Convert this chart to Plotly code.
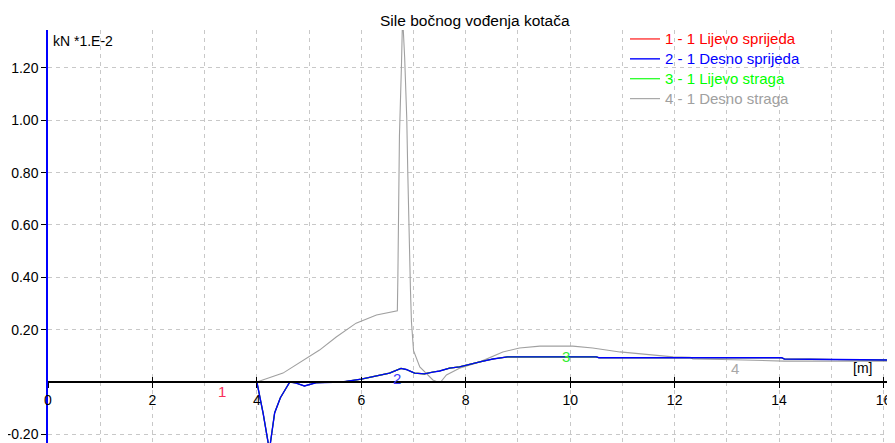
import plotly.graph_objects as go

# ---- data ----
x_desno_sprijeda = [0, 4.0, 4.12, 4.24, 4.34, 4.45, 4.57, 4.63, 4.75, 4.91, 5.13, 5.63, 6.0, 6.4, 6.54,
                    6.76, 6.86, 7.02, 7.21, 7.37, 7.5, 7.69, 7.88, 8.27, 8.52, 8.8, 10.5, 10.55, 14.05,
                    14.1, 16.0, 16.22]
y_desno_sprijeda = [0, 0, -0.12, -0.26, -0.118, -0.06, -0.02, 0, -0.004, -0.015, -0.003, 0, 0.011,
                    0.027, 0.034, 0.052, 0.048, 0.034, 0.031, 0.038, 0.042, 0.053, 0.058, 0.077, 0.088,
                    0.096, 0.096, 0.093, 0.093, 0.088, 0.086, 0.084]

# hidden under series 2 in the reference
x_lijevo_sprijeda = list(x_desno_sprijeda)
y_lijevo_sprijeda = list(y_desno_sprijeda)
x_lijevo_straga = list(x_desno_sprijeda)
y_lijevo_straga = list(y_desno_sprijeda)

x_desno_straga = [0, 4.0, 4.5, 4.95, 5.2, 5.52, 5.9, 6.29, 6.69, 6.70, 6.71, 6.73, 6.77, 6.79, 6.83,
                  6.87, 6.89, 6.91, 6.94, 6.96, 7.0, 7.12, 7.37, 7.46, 7.52, 7.63, 7.88, 8.27, 8.71,
                  9.03, 9.42, 10.05, 10.43, 10.95, 11.58, 11.97, 12.3, 12.35, 12.9, 14.0, 14.1, 16.06,
                  16.22]
y_desno_straga = [0, 0, 0.034, 0.09, 0.122, 0.172, 0.225, 0.256, 0.272, 0.40, 0.67, 0.94, 1.22, 1.40,
                  1.24, 1.01, 0.80, 0.58, 0.36, 0.23, 0.12, 0.058, 0.008, 0.0, 0.0, 0.027, 0.053,
                  0.077, 0.115, 0.13, 0.137, 0.137, 0.13, 0.115, 0.103, 0.096, 0.094, 0.088, 0.086,
                  0.082, 0.08, 0.08, 0.08]

series_names = ["1 - 1 Lijevo sprijeda", "2 - 1 Desno sprijeda", "3 - 1 Lijevo straga", "4 - 1 Desno straga"]
series_colors = ["#ff0000", "#0000ff", "#00ff00", "#a0a0a0"]

y_tick_vals = [-0.2, 0.2, 0.4, 0.6, 0.8, 1.0, 1.2]
y_tick_text = ["-0.20", "0.20", "0.40", "0.60", "0.80", "1.00", "1.20"]
x_tick_vals = [0, 2, 4, 6, 8, 10, 12, 14, 16]

curve_labels = ["1", "2", "3", "4"]
curve_label_x = [3.33, 6.68, 9.91, 13.15]
curve_label_y = [-0.038, 0.015, 0.099, 0.05]
curve_label_colors = ["#f8305a", "#3c3cff", "#30ee30", "#a8a8a8"]

X_RANGE = [0, 16.22]
Y_RANGE = [-0.233, 1.345]
FONT = "Liberation Sans, Arial, sans-serif"

# the page body adds an 8px offset; plot area should span x 48..895, y 30..443 in the window
PAGE_OFF = 8
ML, MT = 48 - PAGE_OFF, 30 - PAGE_OFF
W, H = 895 - PAGE_OFF, 443 - PAGE_OFF
PH = H - MT  # plot height in px
PW = W - ML

fig = go.Figure()

series = [
    (x_desno_straga, y_desno_straga, 3),
    (x_lijevo_sprijeda, y_lijevo_sprijeda, 0),
    (x_lijevo_straga, y_lijevo_straga, 2),
    (x_desno_sprijeda, y_desno_sprijeda, 1),
]
for xs, ys, i in series:
    fig.add_trace(go.Scatter(
        x=xs, y=ys, mode="lines",
        line=dict(color=series_colors[i], width=1.4 if i == 1 else 1.1),
        name='<span style="color:%s;font-size:15px">%s</span>' % (series_colors[i], series_names[i]),
        legendrank=i + 1,
        hoverinfo="skip",
    ))

# invisible trace on the second x axis to carry the upward tick marks
fig.add_trace(go.Scatter(x=[None], y=[None], xaxis="x2", showlegend=False, hoverinfo="skip"))

zero_pos = (0 - Y_RANGE[0]) / (Y_RANGE[1] - Y_RANGE[0])

for lab, lx, ly, lc in zip(curve_labels, curve_label_x, curve_label_y, curve_label_colors):
    fig.add_annotation(x=lx, y=ly, text=lab, showarrow=False, xanchor="center", yanchor="middle",
                       font=dict(family=FONT, size=15, color=lc))

fig.add_annotation(xref="paper", yref="paper", x=(475 - 48) / PW, y=(443 - 21) / PH,
                   xanchor="center", yanchor="middle", text="Sile bočnog vođenja kotača",
                   showarrow=False, font=dict(family=FONT, size=15.5, color="#000000"))
fig.add_annotation(xref="paper", yref="paper", x=0.004, y=(443 - 41) / PH, xanchor="left",
                   yanchor="middle", text="kN *1.E-2", showarrow=False,
                   font=dict(family=FONT, size=14, color="#000000"))
fig.add_annotation(x=15.6, y=0.053, text="[m]", showarrow=False, xanchor="center", yanchor="middle",
                   font=dict(family=FONT, size=14, color="#000000"))

grid_common = dict(gridcolor="#c8c8c8", griddash="4px,4px", gridwidth=1)

fig.update_layout(
    width=W, height=H,
    margin=dict(l=ML, r=0, t=MT, b=0, autoexpand=False),
    plot_bgcolor="white", paper_bgcolor="white",
    font=dict(family=FONT, size=14, color="#000000"),
    showlegend=True,
    legend=dict(x=(625 - 48) / PW, y=1 + 6 / PH, xanchor="left", yanchor="top",
                bgcolor="rgba(0,0,0,0)", borderwidth=0, font=dict(family=FONT, size=13),
                tracegroupgap=0),
    xaxis=dict(range=X_RANGE, tickvals=x_tick_vals, ticks="outside", ticklen=5, tickcolor="#000000",
               anchor="free", position=zero_pos, showline=True, linecolor="#000000", linewidth=1.5,
               zeroline=False, showgrid=True, automargin=False, **grid_common,
               minor=dict(dtick=1, showgrid=True, ticks="", **grid_common),
               tickfont=dict(family=FONT, size=14)),
    xaxis2=dict(range=X_RANGE, tickvals=x_tick_vals, ticks="inside", ticklen=5, tickcolor="#000000",
                overlaying="x", anchor="free", position=zero_pos, showline=False, automargin=False,
                showticklabels=False, showgrid=False, zeroline=False),
    yaxis=dict(range=Y_RANGE, tickvals=y_tick_vals, ticktext=y_tick_text, ticks="outside", ticklen=5,
               tickcolor="#000000", showline=True, linecolor="#0000ff", linewidth=1.5,
               zeroline=False, showgrid=True, automargin=False, **grid_common,
               tickfont=dict(family=FONT, size=14)),
)

fig.write_html("out.html", config={"displayModeBar": False})
